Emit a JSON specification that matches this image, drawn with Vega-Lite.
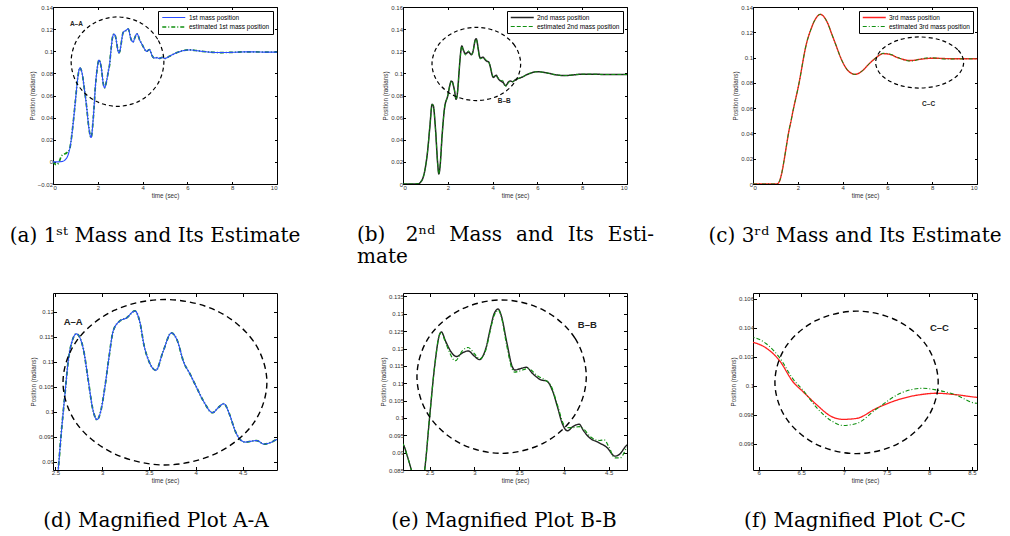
{
"$schema":"https://vega.github.io/schema/vega-lite/v6.json",
"autosize":{"type":"none"},
"padding":{"left":53,"top":7,"right":957,"bottom":529},
"background":"white",
"columns":3,
"bounds":"flush",
"spacing":{"row":109,"column":126},
"resolve":{"scale":{"color":"independent","strokeDash":"independent","strokeWidth":"independent"},"legend":{"color":"independent","strokeDash":"independent"}},
"config":{
 "view":{"stroke":"#000","strokeWidth":1},
 "axis":{"grid":false,"domain":false,"ticks":true,"tickColor":"#000","tickSize":-2.5,"labelFont":"Liberation Sans","labelFontSize":6,"labelColor":"#333","titleFont":"Liberation Sans","titleFontSize":6.3,"titleFontWeight":"normal","titleColor":"#333","labelPadding":3,"titlePadding":2},
 "legend":{"orient":"top-right","offset":4,"fillColor":"white","strokeColor":"#000","padding":3,"labelFont":"Liberation Sans","labelFontSize":6.5,"labelColor":"#000","symbolType":"M-1,0L7.4,0","symbolSize":30,"symbolStrokeWidth":1.2,"labelOffset":20,"rowPadding":2},
 "title":{"font":"DejaVu Serif","fontSize":20,"fontWeight":"normal","color":"#000"}
},
"datasets":{
 "m1":[
  {"s":"estimated 1st mass position","t":0,"v":0},{"s":"estimated 1st mass position","t":0.15,"v":-0.0025},{"s":"estimated 1st mass position","t":0.25,"v":-0.001},{"s":"estimated 1st mass position","t":0.37,"v":0.005},{"s":"estimated 1st mass position","t":0.5,"v":0.007},{"s":"estimated 1st mass position","t":0.6,"v":0.008},{"s":"estimated 1st mass position","t":0.75,"v":0.012},{"s":"estimated 1st mass position","t":0.8,"v":0.018},{"s":"estimated 1st mass position","t":0.9,"v":0.035},{"s":"estimated 1st mass position","t":1.0,"v":0.055},{"s":"estimated 1st mass position","t":1.1,"v":0.075},{"s":"estimated 1st mass position","t":1.2,"v":0.085},{"s":"estimated 1st mass position","t":1.3,"v":0.08},{"s":"estimated 1st mass position","t":1.4,"v":0.066},{"s":"estimated 1st mass position","t":1.5,"v":0.05},{"s":"estimated 1st mass position","t":1.6,"v":0.031},{"s":"estimated 1st mass position","t":1.7,"v":0.022},{"s":"estimated 1st mass position","t":1.8,"v":0.04},{"s":"estimated 1st mass position","t":1.9,"v":0.07},{"s":"estimated 1st mass position","t":2.0,"v":0.088},{"s":"estimated 1st mass position","t":2.05,"v":0.092},{"s":"estimated 1st mass position","t":2.15,"v":0.086},{"s":"estimated 1st mass position","t":2.25,"v":0.07},{"s":"estimated 1st mass position","t":2.3,"v":0.067},{"s":"estimated 1st mass position","t":2.4,"v":0.074},{"s":"estimated 1st mass position","t":2.48,"v":0.083},{"s":"estimated 1st mass position","t":2.53,"v":0.0883},{"s":"estimated 1st mass position","t":2.56,"v":0.095},{"s":"estimated 1st mass position","t":2.6,"v":0.103},{"s":"estimated 1st mass position","t":2.64,"v":0.1105},{"s":"estimated 1st mass position","t":2.68,"v":0.1142},{"s":"estimated 1st mass position","t":2.725,"v":0.1156},{"s":"estimated 1st mass position","t":2.77,"v":0.1145},{"s":"estimated 1st mass position","t":2.8,"v":0.1125},{"s":"estimated 1st mass position","t":2.85,"v":0.1065},{"s":"estimated 1st mass position","t":2.9,"v":0.1005},{"s":"estimated 1st mass position","t":2.945,"v":0.0984},{"s":"estimated 1st mass position","t":2.99,"v":0.1005},{"s":"estimated 1st mass position","t":3.03,"v":0.105},{"s":"estimated 1st mass position","t":3.07,"v":0.1105},{"s":"estimated 1st mass position","t":3.12,"v":0.1163},{"s":"estimated 1st mass position","t":3.19,"v":0.1182},{"s":"estimated 1st mass position","t":3.26,"v":0.1188},{"s":"estimated 1st mass position","t":3.35,"v":0.1202},{"s":"estimated 1st mass position","t":3.4,"v":0.1182},{"s":"estimated 1st mass position","t":3.45,"v":0.1131},{"s":"estimated 1st mass position","t":3.5,"v":0.1101},{"s":"estimated 1st mass position","t":3.575,"v":0.1083},{"s":"estimated 1st mass position","t":3.65,"v":0.112},{"s":"estimated 1st mass position","t":3.74,"v":0.1158},{"s":"estimated 1st mass position","t":3.8,"v":0.1144},{"s":"estimated 1st mass position","t":3.87,"v":0.11},{"s":"estimated 1st mass position","t":3.94,"v":0.1075},{"s":"estimated 1st mass position","t":4.0,"v":0.1052},{"s":"estimated 1st mass position","t":4.08,"v":0.1022},{"s":"estimated 1st mass position","t":4.18,"v":0.0998},{"s":"estimated 1st mass position","t":4.24,"v":0.1008},{"s":"estimated 1st mass position","t":4.3,"v":0.1016},{"s":"estimated 1st mass position","t":4.36,"v":0.0995},{"s":"estimated 1st mass position","t":4.42,"v":0.0962},{"s":"estimated 1st mass position","t":4.475,"v":0.0944},{"s":"estimated 1st mass position","t":4.53,"v":0.0939},{"s":"estimated 1st mass position","t":4.6,"v":0.0941},{"s":"estimated 1st mass position","t":4.65,"v":0.0942},{"s":"estimated 1st mass position","t":4.73,"v":0.0935},{"s":"estimated 1st mass position","t":4.8,"v":0.0938},{"s":"estimated 1st mass position","t":4.87,"v":0.0944},{"s":"estimated 1st mass position","t":5.0,"v":0.0935},{"s":"estimated 1st mass position","t":5.2,"v":0.0955},{"s":"estimated 1st mass position","t":5.5,"v":0.0985},{"s":"estimated 1st mass position","t":5.8,"v":0.1005},{"s":"estimated 1st mass position","t":6.1,"v":0.1012},{"s":"estimated 1st mass position","t":6.5,"v":0.1003},{"s":"estimated 1st mass position","t":7.0,"v":0.0992},{"s":"estimated 1st mass position","t":7.5,"v":0.0988},{"s":"estimated 1st mass position","t":8.0,"v":0.099},{"s":"estimated 1st mass position","t":8.5,"v":0.0994},{"s":"estimated 1st mass position","t":9.0,"v":0.0994},{"s":"estimated 1st mass position","t":9.5,"v":0.0992},{"s":"estimated 1st mass position","t":10,"v":0.0992},
  {"s":"1st mass position","t":0,"v":0},{"s":"1st mass position","t":0.2,"v":0},{"s":"1st mass position","t":0.4,"v":0.0003},{"s":"1st mass position","t":0.55,"v":0.002},{"s":"1st mass position","t":0.7,"v":0.008},{"s":"1st mass position","t":0.8,"v":0.018},{"s":"1st mass position","t":0.9,"v":0.035},{"s":"1st mass position","t":1.0,"v":0.055},{"s":"1st mass position","t":1.1,"v":0.075},{"s":"1st mass position","t":1.2,"v":0.085},{"s":"1st mass position","t":1.3,"v":0.08},{"s":"1st mass position","t":1.4,"v":0.066},{"s":"1st mass position","t":1.5,"v":0.05},{"s":"1st mass position","t":1.6,"v":0.031},{"s":"1st mass position","t":1.7,"v":0.022},{"s":"1st mass position","t":1.8,"v":0.04},{"s":"1st mass position","t":1.9,"v":0.07},{"s":"1st mass position","t":2.0,"v":0.088},{"s":"1st mass position","t":2.05,"v":0.092},{"s":"1st mass position","t":2.15,"v":0.086},{"s":"1st mass position","t":2.25,"v":0.07},{"s":"1st mass position","t":2.3,"v":0.067},{"s":"1st mass position","t":2.4,"v":0.074},{"s":"1st mass position","t":2.48,"v":0.083},{"s":"1st mass position","t":2.53,"v":0.0883},{"s":"1st mass position","t":2.56,"v":0.095},{"s":"1st mass position","t":2.6,"v":0.103},{"s":"1st mass position","t":2.64,"v":0.1105},{"s":"1st mass position","t":2.68,"v":0.1142},{"s":"1st mass position","t":2.725,"v":0.1156},{"s":"1st mass position","t":2.77,"v":0.1145},{"s":"1st mass position","t":2.8,"v":0.1125},{"s":"1st mass position","t":2.85,"v":0.1065},{"s":"1st mass position","t":2.9,"v":0.1005},{"s":"1st mass position","t":2.945,"v":0.0984},{"s":"1st mass position","t":2.99,"v":0.1005},{"s":"1st mass position","t":3.03,"v":0.105},{"s":"1st mass position","t":3.07,"v":0.1105},{"s":"1st mass position","t":3.12,"v":0.1163},{"s":"1st mass position","t":3.19,"v":0.1182},{"s":"1st mass position","t":3.26,"v":0.1188},{"s":"1st mass position","t":3.35,"v":0.1202},{"s":"1st mass position","t":3.4,"v":0.1182},{"s":"1st mass position","t":3.45,"v":0.1131},{"s":"1st mass position","t":3.5,"v":0.1101},{"s":"1st mass position","t":3.575,"v":0.1083},{"s":"1st mass position","t":3.65,"v":0.112},{"s":"1st mass position","t":3.74,"v":0.1158},{"s":"1st mass position","t":3.8,"v":0.1144},{"s":"1st mass position","t":3.87,"v":0.11},{"s":"1st mass position","t":3.94,"v":0.1075},{"s":"1st mass position","t":4.0,"v":0.1052},{"s":"1st mass position","t":4.08,"v":0.1022},{"s":"1st mass position","t":4.18,"v":0.0998},{"s":"1st mass position","t":4.24,"v":0.1008},{"s":"1st mass position","t":4.3,"v":0.1016},{"s":"1st mass position","t":4.36,"v":0.0995},{"s":"1st mass position","t":4.42,"v":0.0962},{"s":"1st mass position","t":4.475,"v":0.0944},{"s":"1st mass position","t":4.53,"v":0.0939},{"s":"1st mass position","t":4.6,"v":0.0941},{"s":"1st mass position","t":4.65,"v":0.0942},{"s":"1st mass position","t":4.73,"v":0.0935},{"s":"1st mass position","t":4.8,"v":0.0938},{"s":"1st mass position","t":4.87,"v":0.0944},{"s":"1st mass position","t":5.0,"v":0.0935},{"s":"1st mass position","t":5.2,"v":0.0955},{"s":"1st mass position","t":5.5,"v":0.0985},{"s":"1st mass position","t":5.8,"v":0.1005},{"s":"1st mass position","t":6.1,"v":0.1012},{"s":"1st mass position","t":6.5,"v":0.1003},{"s":"1st mass position","t":7.0,"v":0.0992},{"s":"1st mass position","t":7.5,"v":0.0988},{"s":"1st mass position","t":8.0,"v":0.099},{"s":"1st mass position","t":8.5,"v":0.0994},{"s":"1st mass position","t":9.0,"v":0.0994},{"s":"1st mass position","t":9.5,"v":0.0992},{"s":"1st mass position","t":10,"v":0.0992}
 ],
 "m2":[
  {"s":"2nd mass position","t":0,"v":0},{"s":"2nd mass position","t":0.5,"v":0},{"s":"2nd mass position","t":0.7,"v":0.0003},{"s":"2nd mass position","t":0.8,"v":0.002},{"s":"2nd mass position","t":0.9,"v":0.006},{"s":"2nd mass position","t":1.0,"v":0.015},{"s":"2nd mass position","t":1.1,"v":0.03},{"s":"2nd mass position","t":1.2,"v":0.052},{"s":"2nd mass position","t":1.3,"v":0.072},{"s":"2nd mass position","t":1.35,"v":0.071},{"s":"2nd mass position","t":1.45,"v":0.05},{"s":"2nd mass position","t":1.55,"v":0.018},{"s":"2nd mass position","t":1.6,"v":0.009},{"s":"2nd mass position","t":1.65,"v":0.015},{"s":"2nd mass position","t":1.75,"v":0.045},{"s":"2nd mass position","t":1.85,"v":0.068},{"s":"2nd mass position","t":2.0,"v":0.08},{"s":"2nd mass position","t":2.1,"v":0.09},{"s":"2nd mass position","t":2.15,"v":0.093},{"s":"2nd mass position","t":2.202,"v":0.0924},{"s":"2nd mass position","t":2.25,"v":0.089},{"s":"2nd mass position","t":2.295,"v":0.085},{"s":"2nd mass position","t":2.37,"v":0.0765},{"s":"2nd mass position","t":2.444,"v":0.085},{"s":"2nd mass position","t":2.5,"v":0.1004},{"s":"2nd mass position","t":2.556,"v":0.115},{"s":"2nd mass position","t":2.61,"v":0.124},{"s":"2nd mass position","t":2.63,"v":0.1248},{"s":"2nd mass position","t":2.68,"v":0.122},{"s":"2nd mass position","t":2.74,"v":0.119},{"s":"2nd mass position","t":2.8,"v":0.1177},{"s":"2nd mass position","t":2.87,"v":0.1188},{"s":"2nd mass position","t":2.93,"v":0.1193},{"s":"2nd mass position","t":3.0,"v":0.1178},{"s":"2nd mass position","t":3.056,"v":0.1168},{"s":"2nd mass position","t":3.13,"v":0.1203},{"s":"2nd mass position","t":3.18,"v":0.126},{"s":"2nd mass position","t":3.22,"v":0.13},{"s":"2nd mass position","t":3.265,"v":0.1314},{"s":"2nd mass position","t":3.3,"v":0.1295},{"s":"2nd mass position","t":3.36,"v":0.122},{"s":"2nd mass position","t":3.42,"v":0.115},{"s":"2nd mass position","t":3.45,"v":0.1138},{"s":"2nd mass position","t":3.5,"v":0.1141},{"s":"2nd mass position","t":3.58,"v":0.1146},{"s":"2nd mass position","t":3.65,"v":0.1128},{"s":"2nd mass position","t":3.74,"v":0.111},{"s":"2nd mass position","t":3.81,"v":0.1106},{"s":"2nd mass position","t":3.87,"v":0.108},{"s":"2nd mass position","t":3.93,"v":0.103},{"s":"2nd mass position","t":3.98,"v":0.0985},{"s":"2nd mass position","t":4.04,"v":0.0963},{"s":"2nd mass position","t":4.1,"v":0.0975},{"s":"2nd mass position","t":4.17,"v":0.0982},{"s":"2nd mass position","t":4.22,"v":0.0963},{"s":"2nd mass position","t":4.29,"v":0.0942},{"s":"2nd mass position","t":4.38,"v":0.093},{"s":"2nd mass position","t":4.48,"v":0.0915},{"s":"2nd mass position","t":4.57,"v":0.089},{"s":"2nd mass position","t":4.62,"v":0.0895},{"s":"2nd mass position","t":4.705,"v":0.0922},{"s":"2nd mass position","t":4.8,"v":0.093},{"s":"2nd mass position","t":4.9,"v":0.0925},{"s":"2nd mass position","t":5.0,"v":0.094},{"s":"2nd mass position","t":5.3,"v":0.0965},{"s":"2nd mass position","t":5.6,"v":0.0995},{"s":"2nd mass position","t":6.0,"v":0.1015},{"s":"2nd mass position","t":6.4,"v":0.1005},{"s":"2nd mass position","t":6.8,"v":0.0988},{"s":"2nd mass position","t":7.2,"v":0.098},{"s":"2nd mass position","t":7.6,"v":0.0986},{"s":"2nd mass position","t":8.0,"v":0.0993},{"s":"2nd mass position","t":8.5,"v":0.0993},{"s":"2nd mass position","t":9.0,"v":0.099},{"s":"2nd mass position","t":9.5,"v":0.099},{"s":"2nd mass position","t":10,"v":0.099},
  {"s":"estimated 2nd mass position","t":0,"v":0},{"s":"estimated 2nd mass position","t":0.5,"v":0},{"s":"estimated 2nd mass position","t":0.7,"v":0.0003},{"s":"estimated 2nd mass position","t":0.8,"v":0.002},{"s":"estimated 2nd mass position","t":0.9,"v":0.006},{"s":"estimated 2nd mass position","t":1.0,"v":0.015},{"s":"estimated 2nd mass position","t":1.1,"v":0.03},{"s":"estimated 2nd mass position","t":1.2,"v":0.052},{"s":"estimated 2nd mass position","t":1.3,"v":0.072},{"s":"estimated 2nd mass position","t":1.35,"v":0.071},{"s":"estimated 2nd mass position","t":1.45,"v":0.05},{"s":"estimated 2nd mass position","t":1.55,"v":0.018},{"s":"estimated 2nd mass position","t":1.6,"v":0.009},{"s":"estimated 2nd mass position","t":1.65,"v":0.015},{"s":"estimated 2nd mass position","t":1.75,"v":0.045},{"s":"estimated 2nd mass position","t":1.85,"v":0.068},{"s":"estimated 2nd mass position","t":2.0,"v":0.08},{"s":"estimated 2nd mass position","t":2.1,"v":0.09},{"s":"estimated 2nd mass position","t":2.15,"v":0.093},{"s":"estimated 2nd mass position","t":2.202,"v":0.0924},{"s":"estimated 2nd mass position","t":2.25,"v":0.089},{"s":"estimated 2nd mass position","t":2.295,"v":0.085},{"s":"estimated 2nd mass position","t":2.37,"v":0.0765},{"s":"estimated 2nd mass position","t":2.444,"v":0.085},{"s":"estimated 2nd mass position","t":2.5,"v":0.1004},{"s":"estimated 2nd mass position","t":2.556,"v":0.115},{"s":"estimated 2nd mass position","t":2.61,"v":0.124},{"s":"estimated 2nd mass position","t":2.63,"v":0.1246},{"s":"estimated 2nd mass position","t":2.68,"v":0.1215},{"s":"estimated 2nd mass position","t":2.787,"v":0.1165},{"s":"estimated 2nd mass position","t":2.87,"v":0.1195},{"s":"estimated 2nd mass position","t":2.93,"v":0.1203},{"s":"estimated 2nd mass position","t":3.0,"v":0.1185},{"s":"estimated 2nd mass position","t":3.06,"v":0.117},{"s":"estimated 2nd mass position","t":3.13,"v":0.1198},{"s":"estimated 2nd mass position","t":3.18,"v":0.1255},{"s":"estimated 2nd mass position","t":3.22,"v":0.1295},{"s":"estimated 2nd mass position","t":3.27,"v":0.131},{"s":"estimated 2nd mass position","t":3.3,"v":0.1292},{"s":"estimated 2nd mass position","t":3.36,"v":0.121},{"s":"estimated 2nd mass position","t":3.42,"v":0.1142},{"s":"estimated 2nd mass position","t":3.45,"v":0.1132},{"s":"estimated 2nd mass position","t":3.5,"v":0.1135},{"s":"estimated 2nd mass position","t":3.6,"v":0.1142},{"s":"estimated 2nd mass position","t":3.7,"v":0.1122},{"s":"estimated 2nd mass position","t":3.85,"v":0.1095},{"s":"estimated 2nd mass position","t":3.93,"v":0.1035},{"s":"estimated 2nd mass position","t":4.0,"v":0.098},{"s":"estimated 2nd mass position","t":4.04,"v":0.0972},{"s":"estimated 2nd mass position","t":4.1,"v":0.0972},{"s":"estimated 2nd mass position","t":4.17,"v":0.0975},{"s":"estimated 2nd mass position","t":4.22,"v":0.0968},{"s":"estimated 2nd mass position","t":4.3,"v":0.0945},{"s":"estimated 2nd mass position","t":4.4,"v":0.0935},{"s":"estimated 2nd mass position","t":4.45,"v":0.0937},{"s":"estimated 2nd mass position","t":4.5,"v":0.0918},{"s":"estimated 2nd mass position","t":4.57,"v":0.0885},{"s":"estimated 2nd mass position","t":4.63,"v":0.0885},{"s":"estimated 2nd mass position","t":4.705,"v":0.0915},{"s":"estimated 2nd mass position","t":4.8,"v":0.093},{"s":"estimated 2nd mass position","t":4.9,"v":0.0925},{"s":"estimated 2nd mass position","t":5.0,"v":0.094},{"s":"estimated 2nd mass position","t":5.3,"v":0.0965},{"s":"estimated 2nd mass position","t":5.6,"v":0.0995},{"s":"estimated 2nd mass position","t":6.0,"v":0.1015},{"s":"estimated 2nd mass position","t":6.4,"v":0.1005},{"s":"estimated 2nd mass position","t":6.8,"v":0.0988},{"s":"estimated 2nd mass position","t":7.2,"v":0.098},{"s":"estimated 2nd mass position","t":7.6,"v":0.0986},{"s":"estimated 2nd mass position","t":8.0,"v":0.0993},{"s":"estimated 2nd mass position","t":8.5,"v":0.0993},{"s":"estimated 2nd mass position","t":9.0,"v":0.099},{"s":"estimated 2nd mass position","t":9.5,"v":0.099},{"s":"estimated 2nd mass position","t":10,"v":0.099}
 ],
 "m3":[
  {"s":"3rd mass position","t":0,"v":0},{"s":"3rd mass position","t":0.5,"v":0},{"s":"3rd mass position","t":1.0,"v":0},{"s":"3rd mass position","t":1.1,"v":0.0003},{"s":"3rd mass position","t":1.2,"v":0.003},{"s":"3rd mass position","t":1.3,"v":0.01},{"s":"3rd mass position","t":1.4,"v":0.02},{"s":"3rd mass position","t":1.5,"v":0.031},{"s":"3rd mass position","t":1.6,"v":0.0417},{"s":"3rd mass position","t":1.7,"v":0.05},{"s":"3rd mass position","t":1.8,"v":0.059},{"s":"3rd mass position","t":1.9,"v":0.067},{"s":"3rd mass position","t":2.0,"v":0.075},{"s":"3rd mass position","t":2.1,"v":0.084},{"s":"3rd mass position","t":2.2,"v":0.094},{"s":"3rd mass position","t":2.3,"v":0.104},{"s":"3rd mass position","t":2.4,"v":0.112},{"s":"3rd mass position","t":2.5,"v":0.118},{"s":"3rd mass position","t":2.6,"v":0.123},{"s":"3rd mass position","t":2.7,"v":0.1275},{"s":"3rd mass position","t":2.8,"v":0.1308},{"s":"3rd mass position","t":2.9,"v":0.1332},{"s":"3rd mass position","t":3.0,"v":0.1342},{"s":"3rd mass position","t":3.1,"v":0.1335},{"s":"3rd mass position","t":3.2,"v":0.1315},{"s":"3rd mass position","t":3.35,"v":0.1265},{"s":"3rd mass position","t":3.5,"v":0.1194},{"s":"3rd mass position","t":3.7,"v":0.11},{"s":"3rd mass position","t":3.9,"v":0.1005},{"s":"3rd mass position","t":4.0,"v":0.0965},{"s":"3rd mass position","t":4.2,"v":0.0905},{"s":"3rd mass position","t":4.4,"v":0.0875},{"s":"3rd mass position","t":4.55,"v":0.0867},{"s":"3rd mass position","t":4.7,"v":0.0874},{"s":"3rd mass position","t":4.9,"v":0.0898},{"s":"3rd mass position","t":5.1,"v":0.0935},{"s":"3rd mass position","t":5.3,"v":0.097},{"s":"3rd mass position","t":5.5,"v":0.1},{"s":"3rd mass position","t":5.7,"v":0.1025},{"s":"3rd mass position","t":5.8,"v":0.1031},{"s":"3rd mass position","t":5.934,"v":0.103},{"s":"3rd mass position","t":6.09,"v":0.1026},{"s":"3rd mass position","t":6.25,"v":0.1017},{"s":"3rd mass position","t":6.4,"v":0.1003},{"s":"3rd mass position","t":6.52,"v":0.0996},{"s":"3rd mass position","t":6.68,"v":0.0987},{"s":"3rd mass position","t":6.85,"v":0.0979},{"s":"3rd mass position","t":6.99,"v":0.09769},{"s":"3rd mass position","t":7.15,"v":0.09776},{"s":"3rd mass position","t":7.38,"v":0.09845},{"s":"3rd mass position","t":7.69,"v":0.09914},{"s":"3rd mass position","t":7.93,"v":0.09942},{"s":"3rd mass position","t":8.08,"v":0.09949},{"s":"3rd mass position","t":8.3,"v":0.0994},{"s":"3rd mass position","t":8.56,"v":0.09921},{"s":"3rd mass position","t":9.0,"v":0.0991},{"s":"3rd mass position","t":9.5,"v":0.0991},{"s":"3rd mass position","t":10,"v":0.099},
  {"s":"estimated 3rd mass position","t":0,"v":0},{"s":"estimated 3rd mass position","t":0.5,"v":0},{"s":"estimated 3rd mass position","t":1.0,"v":0},{"s":"estimated 3rd mass position","t":1.1,"v":0.0003},{"s":"estimated 3rd mass position","t":1.2,"v":0.003},{"s":"estimated 3rd mass position","t":1.3,"v":0.01},{"s":"estimated 3rd mass position","t":1.4,"v":0.02},{"s":"estimated 3rd mass position","t":1.5,"v":0.031},{"s":"estimated 3rd mass position","t":1.6,"v":0.0417},{"s":"estimated 3rd mass position","t":1.7,"v":0.05},{"s":"estimated 3rd mass position","t":1.8,"v":0.059},{"s":"estimated 3rd mass position","t":1.9,"v":0.067},{"s":"estimated 3rd mass position","t":2.0,"v":0.075},{"s":"estimated 3rd mass position","t":2.1,"v":0.084},{"s":"estimated 3rd mass position","t":2.2,"v":0.094},{"s":"estimated 3rd mass position","t":2.3,"v":0.104},{"s":"estimated 3rd mass position","t":2.4,"v":0.112},{"s":"estimated 3rd mass position","t":2.5,"v":0.118},{"s":"estimated 3rd mass position","t":2.6,"v":0.123},{"s":"estimated 3rd mass position","t":2.7,"v":0.1275},{"s":"estimated 3rd mass position","t":2.8,"v":0.1308},{"s":"estimated 3rd mass position","t":2.9,"v":0.1332},{"s":"estimated 3rd mass position","t":3.0,"v":0.1342},{"s":"estimated 3rd mass position","t":3.1,"v":0.1335},{"s":"estimated 3rd mass position","t":3.2,"v":0.1315},{"s":"estimated 3rd mass position","t":3.35,"v":0.1265},{"s":"estimated 3rd mass position","t":3.5,"v":0.1194},{"s":"estimated 3rd mass position","t":3.7,"v":0.11},{"s":"estimated 3rd mass position","t":3.9,"v":0.1005},{"s":"estimated 3rd mass position","t":4.0,"v":0.0965},{"s":"estimated 3rd mass position","t":4.2,"v":0.0905},{"s":"estimated 3rd mass position","t":4.4,"v":0.0875},{"s":"estimated 3rd mass position","t":4.55,"v":0.0867},{"s":"estimated 3rd mass position","t":4.7,"v":0.0874},{"s":"estimated 3rd mass position","t":4.9,"v":0.0898},{"s":"estimated 3rd mass position","t":5.1,"v":0.0935},{"s":"estimated 3rd mass position","t":5.3,"v":0.097},{"s":"estimated 3rd mass position","t":5.5,"v":0.1},{"s":"estimated 3rd mass position","t":5.7,"v":0.1026},{"s":"estimated 3rd mass position","t":5.8,"v":0.1034},{"s":"estimated 3rd mass position","t":5.934,"v":0.10334},{"s":"estimated 3rd mass position","t":6.09,"v":0.1029},{"s":"estimated 3rd mass position","t":6.25,"v":0.10191},{"s":"estimated 3rd mass position","t":6.4,"v":0.1005},{"s":"estimated 3rd mass position","t":6.52,"v":0.0997},{"s":"estimated 3rd mass position","t":6.68,"v":0.0985},{"s":"estimated 3rd mass position","t":6.85,"v":0.0976},{"s":"estimated 3rd mass position","t":6.99,"v":0.09727},{"s":"estimated 3rd mass position","t":7.15,"v":0.09741},{"s":"estimated 3rd mass position","t":7.38,"v":0.0984},{"s":"estimated 3rd mass position","t":7.69,"v":0.09956},{"s":"estimated 3rd mass position","t":7.93,"v":0.09983},{"s":"estimated 3rd mass position","t":8.08,"v":0.09972},{"s":"estimated 3rd mass position","t":8.3,"v":0.0994},{"s":"estimated 3rd mass position","t":8.56,"v":0.0988},{"s":"estimated 3rd mass position","t":9.0,"v":0.0989},{"s":"estimated 3rd mass position","t":9.5,"v":0.099},{"s":"estimated 3rd mass position","t":10,"v":0.099}
 ]
},
"concat":[
 {"width":224,"height":177,
  "title":{"text":"(a)  1ˢᵗ Mass and Its Estimate","orient":"bottom","anchor":"middle","frame":"group","dx":-10,"offset":43,"baseline":"alphabetic"},
  "layer":[
   {"data":{"name":"m1"},"mark":{"type":"line","interpolate":"monotone","clip":true},
    "encoding":{
     "x":{"field":"t","type":"quantitative","scale":{"domain":[0,10],"nice":false,"zero":false},"axis":{"orient":"bottom","title":"time (sec)","values":[0,2,4,6,8,10]}},
     "y":{"field":"v","type":"quantitative","scale":{"domain":[-0.02,0.14],"nice":false,"zero":false},"axis":{"orient":"left","title":"Position (radians)","format":"~g","values":[-0.02,0,0.02,0.04,0.06,0.08,0.1,0.12,0.14]}},
     "color":{"field":"s","type":"nominal","scale":{"domain":["1st mass position","estimated 1st mass position"],"range":["#2a4cff","#109010"]},"legend":{"title":null}},
     "strokeDash":{"field":"s","type":"nominal","scale":{"domain":["1st mass position","estimated 1st mass position"],"range":[[1,0],[4,2,1,2]]},"legend":{"title":null}},
     "strokeWidth":{"field":"s","type":"ordinal","scale":{"domain":["1st mass position","estimated 1st mass position"],"range":[1.1,1.7]},"legend":null}}},
   {"data":{"values":[{"i":0,"t":4.95,"v":0.0906},{"i":1,"t":4.673,"v":0.1108},{"i":2,"t":3.915,"v":0.1256},{"i":3,"t":2.88,"v":0.131},{"i":4,"t":1.845,"v":0.1256},{"i":5,"t":1.087,"v":0.1108},{"i":6,"t":0.81,"v":0.0906},{"i":7,"t":1.087,"v":0.0704},{"i":8,"t":1.845,"v":0.0556},{"i":9,"t":2.88,"v":0.0502},{"i":10,"t":3.915,"v":0.0556},{"i":11,"t":4.673,"v":0.0704}]},
    "mark":{"type":"line","interpolate":"cardinal-closed","color":"#000","strokeWidth":1.2,"strokeDash":[4,3]},
    "encoding":{"x":{"field":"t","type":"quantitative","axis":{"orient":"top","labels":false,"title":null,"values":[0,2,4,6,8,10]}},"y":{"field":"v","type":"quantitative","axis":{"orient":"right","labels":false,"title":null,"values":[-0.02,0,0.02,0.04,0.06,0.08,0.1,0.12,0.14]}},"order":{"field":"i","type":"quantitative"}}},
   {"data":{"values":[{"t":1.045,"v":0.125,"txt":"A–A"}]},"mark":{"type":"text","fontWeight":"bold","fontSize":6.5,"font":"Liberation Sans","color":"#222"},
    "encoding":{"x":{"field":"t","type":"quantitative","axis":null},"y":{"field":"v","type":"quantitative","axis":null},"text":{"field":"txt"}}}
  ],
  "resolve":{"axis":{"x":"independent","y":"independent"}}},
 {"width":224,"height":177,
  "title":{"text":["(b)\u2002\u2009 2ⁿᵈ\u2002\u2009Mass\u2002\u2009and\u2002\u2009Its\u2002\u2009Esti-","mate"],"orient":"bottom","anchor":"start","align":"left","frame":"group","dx":-46,"offset":42,"baseline":"alphabetic","lineHeight":22},
  "layer":[
   {"data":{"name":"m2"},"mark":{"type":"line","interpolate":"monotone","clip":true},
    "encoding":{
     "x":{"field":"t","type":"quantitative","scale":{"domain":[0,10],"nice":false,"zero":false},"axis":{"orient":"bottom","title":"time (sec)","values":[0,2,4,6,8,10]}},
     "y":{"field":"v","type":"quantitative","scale":{"domain":[0,0.16],"nice":false,"zero":false},"axis":{"orient":"left","title":"Position (radians)","format":"~g","values":[0,0.02,0.04,0.06,0.08,0.1,0.12,0.14,0.16]}},
     "color":{"field":"s","type":"nominal","scale":{"domain":["2nd mass position","estimated 2nd mass position"],"range":["#222222","#109010"]},"legend":{"title":null}},
     "strokeDash":{"field":"s","type":"nominal","scale":{"domain":["2nd mass position","estimated 2nd mass position"],"range":[[1,0],[4,2]]},"legend":{"title":null}},
     "strokeWidth":{"field":"s","type":"ordinal","scale":{"domain":["2nd mass position","estimated 2nd mass position"],"range":[1.5,1.0]},"legend":null}}},
   {"data":{"values":[{"i":0,"t":5.253,"v":0.1085},{"i":1,"t":4.988,"v":0.1251},{"i":2,"t":4.264,"v":0.1372},{"i":3,"t":3.274,"v":0.1416},{"i":4,"t":2.285,"v":0.1372},{"i":5,"t":1.56,"v":0.1251},{"i":6,"t":1.295,"v":0.1085},{"i":7,"t":1.56,"v":0.092},{"i":8,"t":2.285,"v":0.0798},{"i":9,"t":3.274,"v":0.0754},{"i":10,"t":4.264,"v":0.0798},{"i":11,"t":4.988,"v":0.092}]},
    "mark":{"type":"line","interpolate":"cardinal-closed","color":"#000","strokeWidth":1.2,"strokeDash":[4,3]},
    "encoding":{"x":{"field":"t","type":"quantitative","axis":{"orient":"top","labels":false,"title":null,"values":[0,2,4,6,8,10]}},"y":{"field":"v","type":"quantitative","axis":{"orient":"right","labels":false,"title":null,"values":[0,0.02,0.04,0.06,0.08,0.1,0.12,0.14,0.16]}},"order":{"field":"i","type":"quantitative"}}},
   {"data":{"values":[{"t":4.52,"v":0.0747,"txt":"B–B"}]},"mark":{"type":"text","fontWeight":"bold","fontSize":6.5,"font":"Liberation Sans","color":"#222"},
    "encoding":{"x":{"field":"t","type":"quantitative","axis":null},"y":{"field":"v","type":"quantitative","axis":null},"text":{"field":"txt"}}}
  ],
  "resolve":{"axis":{"x":"independent","y":"independent"}}},
 {"width":224,"height":177,
  "title":{"text":"(c)  3ʳᵈ Mass and Its Estimate","orient":"bottom","anchor":"middle","frame":"group","dx":-10,"offset":43,"baseline":"alphabetic"},
  "layer":[
   {"data":{"name":"m3"},"mark":{"type":"line","interpolate":"monotone","clip":true},
    "encoding":{
     "x":{"field":"t","type":"quantitative","scale":{"domain":[0,10],"nice":false,"zero":false},"axis":{"orient":"bottom","title":"time (sec)","values":[0,2,4,6,8,10]}},
     "y":{"field":"v","type":"quantitative","scale":{"domain":[0,0.14],"nice":false,"zero":false},"axis":{"orient":"left","title":"Position (radians)","format":"~g","values":[0,0.02,0.04,0.06,0.08,0.1,0.12,0.14]}},
     "color":{"field":"s","type":"nominal","scale":{"domain":["3rd mass position","estimated 3rd mass position"],"range":["#ff2020","#109010"]},"legend":{"title":null}},
     "strokeDash":{"field":"s","type":"nominal","scale":{"domain":["3rd mass position","estimated 3rd mass position"],"range":[[1,0],[4,2,1,2]]},"legend":{"title":null}},
     "strokeWidth":{"field":"s","type":"ordinal","scale":{"domain":["3rd mass position","estimated 3rd mass position"],"range":[1.4,1.0]},"legend":null}}},
   {"data":{"values":[{"i":0,"t":9.404,"v":0.0961},{"i":1,"t":9.141,"v":0.1062},{"i":2,"t":8.422,"v":0.1136},{"i":3,"t":7.44,"v":0.1163},{"i":4,"t":6.458,"v":0.1136},{"i":5,"t":5.739,"v":0.1062},{"i":6,"t":5.476,"v":0.0961},{"i":7,"t":5.739,"v":0.086},{"i":8,"t":6.458,"v":0.0786},{"i":9,"t":7.44,"v":0.0759},{"i":10,"t":8.422,"v":0.0786},{"i":11,"t":9.141,"v":0.086}]},
    "mark":{"type":"line","interpolate":"cardinal-closed","color":"#000","strokeWidth":1.2,"strokeDash":[4,3]},
    "encoding":{"x":{"field":"t","type":"quantitative","axis":{"orient":"top","labels":false,"title":null,"values":[0,2,4,6,8,10]}},"y":{"field":"v","type":"quantitative","axis":{"orient":"right","labels":false,"title":null,"values":[0,0.02,0.04,0.06,0.08,0.1,0.12,0.14]}},"order":{"field":"i","type":"quantitative"}}},
   {"data":{"values":[{"t":7.84,"v":0.0635,"txt":"C–C"}]},"mark":{"type":"text","fontWeight":"bold","fontSize":6.5,"font":"Liberation Sans","color":"#222"},
    "encoding":{"x":{"field":"t","type":"quantitative","axis":null},"y":{"field":"v","type":"quantitative","axis":null},"text":{"field":"txt"}}}
  ],
  "resolve":{"axis":{"x":"independent","y":"independent"}}},
 {"width":224,"height":177,
  "title":{"text":"(d) Magnified Plot A-A","orient":"bottom","anchor":"middle","frame":"group","dx":-9,"offset":43,"baseline":"alphabetic"},
  "layer":[
   {"data":{"name":"m1"},"mark":{"type":"line","interpolate":"monotone","clip":true},
    "encoding":{
     "x":{"field":"t","type":"quantitative","scale":{"domain":[2.475,4.868],"nice":false,"zero":false},"axis":{"orient":"bottom","title":"time (sec)","values":[2.5,3,3.5,4,4.5],"format":"~g","tickSize":-3.5}},
     "y":{"field":"v","type":"quantitative","scale":{"domain":[0.0883,0.1238],"nice":false,"zero":false},"axis":{"orient":"left","title":"Position (radians)","format":"~g","values":[0.09,0.095,0.1,0.105,0.11,0.115,0.12],"tickSize":-3.5}},
     "color":{"field":"s","type":"nominal","scale":{"domain":["1st mass position","estimated 1st mass position"],"range":["#2a4cff","#109010"]},"legend":null},
     "strokeDash":{"field":"s","type":"nominal","scale":{"domain":["1st mass position","estimated 1st mass position"],"range":[[1,0],[4,2,1,2]]},"legend":null},
     "strokeWidth":{"field":"s","type":"ordinal","scale":{"domain":["1st mass position","estimated 1st mass position"],"range":[1.1,1.8]},"legend":null}}},
   {"data":{"values":[{"i":0,"t":4.76,"v":0.1059},{"i":1,"t":4.614,"v":0.1142},{"i":2,"t":4.216,"v":0.1203},{"i":3,"t":3.671,"v":0.1225},{"i":4,"t":3.127,"v":0.1203},{"i":5,"t":2.728,"v":0.1142},{"i":6,"t":2.582,"v":0.1059},{"i":7,"t":2.728,"v":0.0976},{"i":8,"t":3.127,"v":0.0916},{"i":9,"t":3.671,"v":0.0893},{"i":10,"t":4.216,"v":0.0916},{"i":11,"t":4.614,"v":0.0976}]},
    "mark":{"type":"line","interpolate":"cardinal-closed","color":"#000","strokeWidth":1.4,"strokeDash":[6,4]},
    "encoding":{"x":{"field":"t","type":"quantitative","axis":{"orient":"top","labels":false,"title":null,"values":[2.5,3,3.5,4,4.5],"tickSize":-3.5}},"y":{"field":"v","type":"quantitative","axis":{"orient":"right","labels":false,"title":null,"values":[0.09,0.095,0.1,0.105,0.11,0.115,0.12],"tickSize":-3.5}},"order":{"field":"i","type":"quantitative"}}},
   {"data":{"values":[{"t":2.69,"v":0.118,"txt":"A–A"}]},"mark":{"type":"text","fontWeight":"bold","fontSize":9.5,"font":"Liberation Sans","color":"#222"},
    "encoding":{"x":{"field":"t","type":"quantitative","axis":null},"y":{"field":"v","type":"quantitative","axis":null},"text":{"field":"txt"}}}
  ],
  "resolve":{"axis":{"x":"independent","y":"independent"}}},
 {"width":224,"height":177,
  "title":{"text":"(e) Magnified Plot B-B","orient":"bottom","anchor":"middle","frame":"group","dx":-11,"offset":43,"baseline":"alphabetic"},
  "layer":[
   {"data":{"name":"m2"},"mark":{"type":"line","interpolate":"monotone","clip":true},
    "encoding":{
     "x":{"field":"t","type":"quantitative","scale":{"domain":[2.202,4.705],"nice":false,"zero":false},"axis":{"orient":"bottom","title":"time (sec)","values":[2.5,3,3.5,4,4.5],"format":"~g","tickSize":-3.5}},
     "y":{"field":"v","type":"quantitative","scale":{"domain":[0.085,0.136],"nice":false,"zero":false},"axis":{"orient":"left","title":"Position (radians)","format":"~g","values":[0.085,0.09,0.095,0.1,0.105,0.11,0.115,0.12,0.125,0.13,0.135],"tickSize":-3.5}},
     "color":{"field":"s","type":"nominal","scale":{"domain":["2nd mass position","estimated 2nd mass position"],"range":["#222222","#109010"]},"legend":null},
     "strokeDash":{"field":"s","type":"nominal","scale":{"domain":["2nd mass position","estimated 2nd mass position"],"range":[[1,0],[4,2,1,2]]},"legend":null},
     "strokeWidth":{"field":"s","type":"ordinal","scale":{"domain":["2nd mass position","estimated 2nd mass position"],"range":[1.4,1.2]},"legend":null}}},
   {"data":{"values":[{"i":0,"t":4.25,"v":0.1119},{"i":1,"t":4.123,"v":0.123},{"i":2,"t":3.777,"v":0.131},{"i":3,"t":3.304,"v":0.134},{"i":4,"t":2.831,"v":0.131},{"i":5,"t":2.485,"v":0.123},{"i":6,"t":2.358,"v":0.1119},{"i":7,"t":2.485,"v":0.1009},{"i":8,"t":2.831,"v":0.0928},{"i":9,"t":3.304,"v":0.0898},{"i":10,"t":3.777,"v":0.0928},{"i":11,"t":4.123,"v":0.1009}]},
    "mark":{"type":"line","interpolate":"cardinal-closed","color":"#000","strokeWidth":1.4,"strokeDash":[6,4]},
    "encoding":{"x":{"field":"t","type":"quantitative","axis":{"orient":"top","labels":false,"title":null,"values":[2.5,3,3.5,4,4.5],"tickSize":-3.5}},"y":{"field":"v","type":"quantitative","axis":{"orient":"right","labels":false,"title":null,"values":[0.085,0.09,0.095,0.1,0.105,0.11,0.115,0.12,0.125,0.13,0.135],"tickSize":-3.5}},"order":{"field":"i","type":"quantitative"}}},
   {"data":{"values":[{"t":4.262,"v":0.1269,"txt":"B–B"}]},"mark":{"type":"text","fontWeight":"bold","fontSize":9.5,"font":"Liberation Sans","color":"#222"},
    "encoding":{"x":{"field":"t","type":"quantitative","axis":null},"y":{"field":"v","type":"quantitative","axis":null},"text":{"field":"txt"}}}
  ],
  "resolve":{"axis":{"x":"independent","y":"independent"}}},
 {"width":224,"height":177,
  "title":{"text":"(f) Magnified Plot C-C","orient":"bottom","anchor":"middle","frame":"group","dx":-10,"offset":43,"baseline":"alphabetic"},
  "layer":[
   {"data":{"name":"m3"},"mark":{"type":"line","interpolate":"monotone","clip":true},
    "encoding":{
     "x":{"field":"t","type":"quantitative","scale":{"domain":[5.934,8.56],"nice":false,"zero":false},"axis":{"orient":"bottom","title":"time (sec)","values":[6,6.5,7,7.5,8,8.5],"format":"~g","tickSize":-3.5}},
     "y":{"field":"v","type":"quantitative","scale":{"domain":[0.0942,0.1064],"nice":false,"zero":false},"axis":{"orient":"left","title":"Position (radians)","format":"~g","values":[0.096,0.098,0.1,0.102,0.104,0.106],"tickSize":-3.5}},
     "color":{"field":"s","type":"nominal","scale":{"domain":["3rd mass position","estimated 3rd mass position"],"range":["#ff2020","#109010"]},"legend":null},
     "strokeDash":{"field":"s","type":"nominal","scale":{"domain":["3rd mass position","estimated 3rd mass position"],"range":[[1,0],[4,2,1,2]]},"legend":null},
     "strokeWidth":{"field":"s","type":"ordinal","scale":{"domain":["3rd mass position","estimated 3rd mass position"],"range":[1.3,1.1]},"legend":null}}},
   {"data":{"values":[{"i":0,"t":8.105,"v":0.10024},{"i":1,"t":7.977,"v":0.1027},{"i":2,"t":7.627,"v":0.10449},{"i":3,"t":7.148,"v":0.10515},{"i":4,"t":6.67,"v":0.10449},{"i":5,"t":6.319,"v":0.1027},{"i":6,"t":6.191,"v":0.10024},{"i":7,"t":6.319,"v":0.09779},{"i":8,"t":6.67,"v":0.09599},{"i":9,"t":7.148,"v":0.09533},{"i":10,"t":7.627,"v":0.09599},{"i":11,"t":7.977,"v":0.09779}]},
    "mark":{"type":"line","interpolate":"cardinal-closed","color":"#000","strokeWidth":1.4,"strokeDash":[6,4]},
    "encoding":{"x":{"field":"t","type":"quantitative","axis":{"orient":"top","labels":false,"title":null,"values":[6,6.5,7,7.5,8,8.5],"tickSize":-3.5}},"y":{"field":"v","type":"quantitative","axis":{"orient":"right","labels":false,"title":null,"values":[0.096,0.098,0.1,0.102,0.104,0.106],"tickSize":-3.5}},"order":{"field":"i","type":"quantitative"}}},
   {"data":{"values":[{"t":8.12,"v":0.104,"txt":"C–C"}]},"mark":{"type":"text","fontWeight":"bold","fontSize":9.5,"font":"Liberation Sans","color":"#222"},
    "encoding":{"x":{"field":"t","type":"quantitative","axis":null},"y":{"field":"v","type":"quantitative","axis":null},"text":{"field":"txt"}}}
  ],
  "resolve":{"axis":{"x":"independent","y":"independent"}}}
]
}
